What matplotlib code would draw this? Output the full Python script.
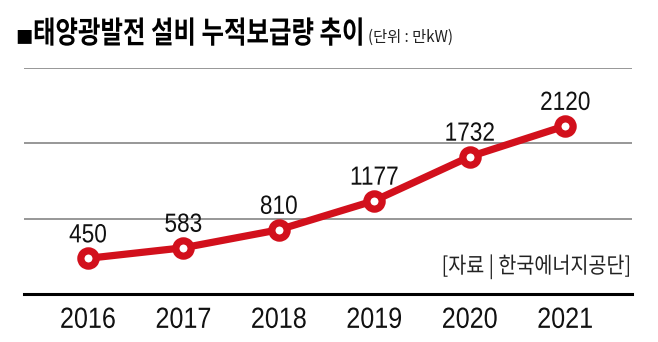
import matplotlib
matplotlib.use("Agg")
import matplotlib.pyplot as plt
from matplotlib.patheffects import AbstractPathEffect
from matplotlib.transforms import Affine2D

years = [2016, 2017, 2018, 2019, 2020, 2021]
values = [450, 583, 810, 1177, 1732, 2120]
value_labels = ["450", "583", "810", "1177", "1732", "2120"]
grid_levels = [950, 1900, 2850]
title_mark = "■"
title_text = "태양광발전 설비 누적보급량 추이"
unit_text = "(단위 : 만kW)"
source_text = "[자료 | 한국에너지공단]"

RED = "#d2101c"
KR = ["Noto Sans CJK KR", "DejaVu Sans"]
NUM = ["Liberation Sans", "DejaVu Sans"]


class Tall(AbstractPathEffect):
    """Stretch glyphs vertically about the baseline (gives a condensed look)."""
    def __init__(self, sy=1.2):
        super().__init__()
        self.sy = sy

    def draw_path(self, renderer, gc, tpath, affine, rgbFace=None):
        t = Affine2D().scale(1, self.sy) + affine
        renderer.draw_path(gc, tpath, t, rgbFace)


fig = plt.figure(figsize=(6.58, 3.42), dpi=100)
ax = fig.add_axes([24/658, 1-294/342, (632-24)/658, (294-68)/342])
ax.set_xlim(2015.33, 2021.70)
ax.set_ylim(0, 2850)
for s in ax.spines.values():
    s.set_visible(False)
ax.set_yticks([])
for g in grid_levels:
    ax.axhline(g, color="#8f8f8f", lw=1.3, zorder=1)
ax.axhline(0, color="black", lw=2.2, zorder=1, clip_on=False)

ax.plot(years, values, color=RED, lw=5.2, zorder=3, solid_capstyle="round",
        marker="o", ms=11, mew=5.2, mfc="white", mec=RED)

for x, v, t in zip(years, values, value_labels):
    ax.annotate(t, (x, v), xytext=(0, 11.5), textcoords="offset points",
                ha="center", va="baseline", fontsize=16.3, family=NUM, color="#111111",
                path_effects=[Tall(1.163)])

ax.set_xticks(years)
ax.set_xticklabels([str(y) for y in years], family=NUM, fontsize=18.1, color="#111111")
for lab in ax.get_xticklabels():
    lab.set_path_effects([Tall(1.163)])
ax.tick_params(axis="x", length=0, pad=10.7)

fig.text(32.5/658, 1-43/342, title_mark, family=KR, fontsize=12.5,
         va="baseline", ha="right", color="black")
fig.text(33/658, 1-43/342, title_text, family=KR, fontweight="bold",
         fontsize=17.6, va="baseline", ha="left", color="black",
         path_effects=[Tall(1.25)])
fig.text(368/658, 1-42/342, unit_text, family=KR, fontsize=11,
         va="baseline", ha="left", color="#222222")
fig.text(631/658, 1-273/342, source_text, family=KR, fontsize=14.1,
         va="baseline", ha="right", color="#222222",
         path_effects=[Tall(1.136)])

fig.savefig("out.png", dpi=100)
